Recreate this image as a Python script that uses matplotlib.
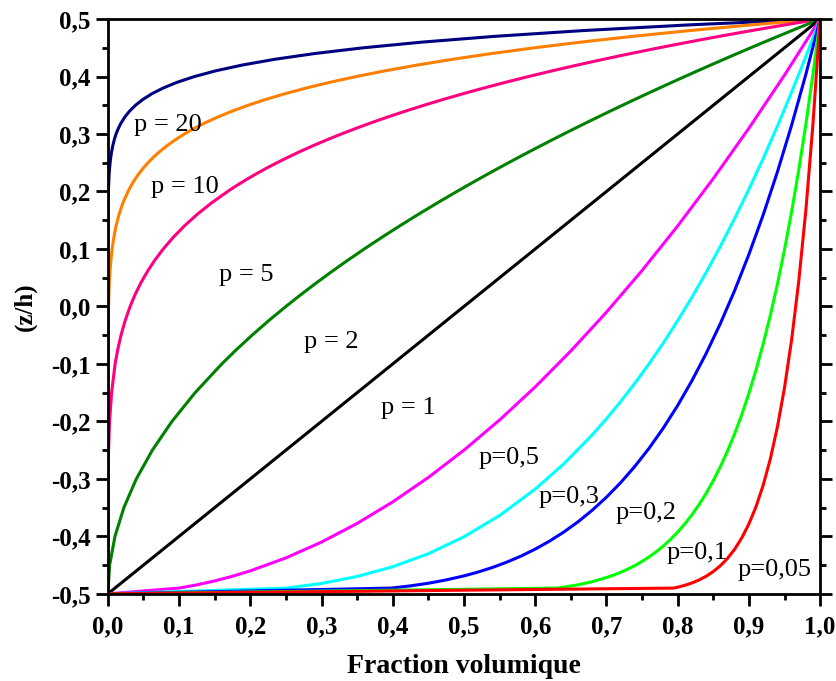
import matplotlib
matplotlib.use('Agg')
import matplotlib.pyplot as plt
from matplotlib.ticker import MultipleLocator, FuncFormatter

# z/h levels shared by the p >= 1 curves
zh = [-0.5, -0.45, -0.4, -0.35, -0.3, -0.25, -0.2, -0.15, -0.1, -0.075,
      -0.05, -0.025, 0.0, 0.02, 0.04, 0.06, 0.08, 0.1, 0.12, 0.14,
      0.16, 0.18, 0.2, 0.21, 0.22, 0.23, 0.24, 0.25, 0.26, 0.27,
      0.28, 0.29, 0.3, 0.31, 0.32, 0.33, 0.34, 0.35, 0.36, 0.37,
      0.38, 0.39, 0.4, 0.41, 0.42, 0.43, 0.44, 0.45, 0.46, 0.47,
      0.48, 0.49, 0.5]

v_p20 = [0, 0, 0, 0, 0, 0, 0, 0, 0, 0,
         0, 0, 0, 0, 0, 0, 0, 0, 0.0001, 0.0001,
         0.0003, 0.0004, 0.0008, 0.0011, 0.0014, 0.0018, 0.0024, 0.0032, 0.0041, 0.0054,
         0.0070, 0.0090, 0.0115, 0.0148, 0.0189, 0.0241, 0.0306, 0.0388, 0.0490, 0.0617,
         0.0776, 0.0972, 0.1216, 0.1516, 0.1887, 0.2342, 0.2901, 0.3585, 0.4420, 0.5438,
         0.6676, 0.8179, 1.0]
v_p10 = [0, 0, 0, 0, 0, 0, 0, 0, 0.0001, 0.0002,
         0.0003, 0.0006, 0.0010, 0.0014, 0.0021, 0.0030, 0.0043, 0.0060, 0.0084, 0.0115,
         0.0157, 0.0211, 0.0283, 0.0326, 0.0374, 0.0430, 0.0492, 0.0563, 0.0643, 0.0733,
         0.0834, 0.0947, 0.1074, 0.1216, 0.1374, 0.1552, 0.1749, 0.1969, 0.2213, 0.2484,
         0.2785, 0.3118, 0.3487, 0.3894, 0.4344, 0.4840, 0.5386, 0.5987, 0.6648, 0.7374,
         0.8171, 0.9044, 1.0]
v_p5 = [0, 0, 0, 0.0001, 0.0003, 0.0010, 0.0024, 0.0053, 0.0102, 0.0139,
        0.0185, 0.0242, 0.0313, 0.0380, 0.0459, 0.0551, 0.0656, 0.0778, 0.0916, 0.1074,
        0.1252, 0.1454, 0.1681, 0.1804, 0.1935, 0.2073, 0.2219, 0.2373, 0.2536, 0.2707,
        0.2887, 0.3077, 0.3277, 0.3487, 0.3707, 0.3939, 0.4182, 0.4437, 0.4704, 0.4984,
        0.5277, 0.5584, 0.5905, 0.6240, 0.6591, 0.6957, 0.7339, 0.7738, 0.8154, 0.8587,
        0.9039, 0.9510, 1.0]
v_p2 = [0, 0.0025, 0.01, 0.0225, 0.04, 0.0625, 0.09, 0.1225, 0.16, 0.1806,
        0.2025, 0.2256, 0.25, 0.2704, 0.2916, 0.3136, 0.3364, 0.36, 0.3844, 0.4096,
        0.4356, 0.4624, 0.49, 0.5041, 0.5184, 0.5329, 0.5476, 0.5625, 0.5776, 0.5929,
        0.6084, 0.6241, 0.64, 0.6561, 0.6724, 0.6889, 0.7056, 0.7225, 0.7396, 0.7569,
        0.7744, 0.7921, 0.81, 0.8281, 0.8464, 0.8649, 0.8836, 0.9025, 0.9216, 0.9409,
        0.9604, 0.9801, 1.0]
v_p1 = [0, 1.0]
zh_p1 = [-0.5, 0.5]

# p < 1 curves: volume fraction and z/h
v_p05 = [0, 0.1, 0.125, 0.15, 0.175, 0.2, 0.25, 0.3, 0.35, 0.4,
         0.45, 0.5, 0.55, 0.6, 0.65, 0.7, 0.75, 0.8, 0.85, 0.9,
         0.95, 1.0]
zh_p05 = [-0.5, -0.49, -0.4844, -0.4775, -0.4694, -0.46, -0.4375, -0.41, -0.3775, -0.34,
          -0.2975, -0.25, -0.1975, -0.14, -0.0775, -0.01, 0.0625, 0.14, 0.2225, 0.31,
          0.4025, 0.5]

v_p03 = [0, 0.251, 0.3, 0.35, 0.4, 0.45, 0.5, 0.55, 0.6, 0.64,
         0.68, 0.7, 0.72, 0.74, 0.76, 0.78, 0.8, 0.82, 0.84, 0.86,
         0.88, 0.9, 0.92, 0.94, 0.96, 0.98, 1.0]
zh_p03 = [-0.5, -0.49, -0.4819, -0.4698, -0.4529, -0.4302, -0.4008, -0.3637, -0.3178, -0.2741,
          -0.2235, -0.1955, -0.1654, -0.1335, -0.0994, -0.0632, -0.0247, 0.0160, 0.0592, 0.1049,
          0.1531, 0.2038, 0.2573, 0.3136, 0.3728, 0.4349, 0.5]

v_p02 = [0, 0.398, 0.425, 0.45, 0.475, 0.5, 0.52, 0.54, 0.56, 0.58,
         0.6, 0.62, 0.64, 0.66, 0.68, 0.7, 0.72, 0.74, 0.76, 0.78,
         0.8, 0.82, 0.84, 0.86, 0.88, 0.9, 0.92, 0.94, 0.96, 0.98,
         1.0]
zh_p02 = [-0.5, -0.49, -0.4861, -0.4816, -0.4758, -0.4688, -0.4620, -0.4541, -0.4449, -0.4344,
          -0.4222, -0.4084, -0.3926, -0.3748, -0.3546, -0.3319, -0.3065, -0.2781, -0.2465, -0.2113,
          -0.1723, -0.1293, -0.0818, -0.0296, 0.0277, 0.0905, 0.1591, 0.2339, 0.3154, 0.4039,
          0.5]

v_p01 = [0, 0.631, 0.64, 0.66, 0.68, 0.7, 0.71, 0.72, 0.73, 0.74,
         0.75, 0.76, 0.77, 0.78, 0.79, 0.8, 0.81, 0.82, 0.83, 0.84,
         0.85, 0.86, 0.87, 0.88, 0.89, 0.9, 0.91, 0.92, 0.93, 0.94,
         0.95, 0.96, 0.97, 0.98, 0.99, 1.0]
zh_p01 = [-0.5, -0.49, -0.4885, -0.4843, -0.4789, -0.4717, -0.4674, -0.4626, -0.4570, -0.4508,
          -0.4437, -0.4357, -0.4267, -0.4166, -0.4053, -0.3926, -0.3784, -0.3626, -0.3448, -0.3251,
          -0.3031, -0.2787, -0.2516, -0.2215, -0.1882, -0.1513, -0.1106, -0.0656, -0.0160, 0.0386,
          0.0987, 0.1648, 0.2374, 0.3171, 0.4044, 0.5]

v_p005 = [0, 0.794, 0.8, 0.81, 0.82, 0.83, 0.84, 0.85, 0.86, 0.87,
          0.88, 0.89, 0.9, 0.91, 0.92, 0.93, 0.94, 0.95, 0.96, 0.97,
          0.98, 0.99, 1.0]
zh_p005 = [-0.5, -0.49, -0.4885, -0.4852, -0.4811, -0.4759, -0.4694, -0.4612, -0.4510, -0.4383,
           -0.4224, -0.4028, -0.3784, -0.3484, -0.3113, -0.2658, -0.2099, -0.1415, -0.0580, 0.0438,
           0.1676, 0.3179, 0.5]

curves = [
    (v_p20, zh, '#000080'),
    (v_p10, zh, '#FF8000'),
    (v_p5, zh, '#FF0080'),
    (v_p2, zh, '#008000'),
    (v_p1, zh_p1, '#000000'),
    (v_p05, zh_p05, '#FF00FF'),
    (v_p03, zh_p03, '#00FFFF'),
    (v_p02, zh_p02, '#0000FF'),
    (v_p01, zh_p01, '#00FF00'),
    (v_p005, zh_p005, '#FF0000'),
]

labels = ['p = 20', 'p = 10', 'p = 5', 'p = 2', 'p = 1',
          'p=0,5', 'p=0,3', 'p=0,2', 'p=0,1', 'p=0,05']
label_x = [0.037, 0.061, 0.156, 0.275, 0.383, 0.52, 0.605, 0.713, 0.785, 0.884]
label_y = [0.316, 0.208, 0.055, -0.062, -0.177, -0.263, -0.331, -0.359, -0.429, -0.458]

fig = plt.figure(figsize=(8.36, 6.81), dpi=100)
ax = fig.add_axes([0.129, 0.128, 0.852, 0.844])

for v, z, c in curves:
    ax.plot(v, z, color=c, lw=2.2, solid_joinstyle='round')

for t, x, y in zip(labels, label_x, label_y):
    ax.text(x, y, t, fontsize=19, family='Liberation Serif', va='center', ha='left')

ax.set_xlim(0, 1.0)
ax.set_ylim(-0.5, 0.5)
ax.xaxis.set_major_locator(MultipleLocator(0.1))
ax.xaxis.set_minor_locator(MultipleLocator(0.05))
ax.yaxis.set_major_locator(MultipleLocator(0.1))
ax.yaxis.set_minor_locator(MultipleLocator(0.05))
fmt = FuncFormatter(lambda v, pos: ('%.1f' % v).replace('.', ',').replace('-0,0', '0,0'))
ax.xaxis.set_major_formatter(fmt)
ax.yaxis.set_major_formatter(fmt)

ax.tick_params(which='both', direction='out', width=2, top=False, right=True)
ax.tick_params(which='major', length=8.5, labelsize=18, pad=4)
ax.tick_params(which='minor', length=4.5)
ax.tick_params(axis='x', which='major', pad=7)
for lab in ax.get_xticklabels() + ax.get_yticklabels():
    lab.set_family('Liberation Serif')
    lab.set_fontweight('bold')
for s in ax.spines.values():
    s.set_linewidth(2)

ax.set_xlabel('Fraction volumique', fontsize=20, fontweight='bold',
              family='Liberation Serif', labelpad=11)
ax.set_ylabel('(z/h)', fontsize=18, fontweight='bold',
              family='Liberation Serif', labelpad=10)

plt.savefig('out.png', dpi=100)
